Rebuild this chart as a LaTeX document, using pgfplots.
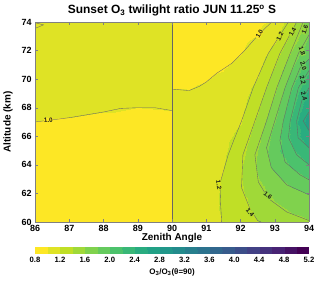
\documentclass[border=0pt]{standalone}
\usepackage{pgfplots}
\pgfplotsset{compat=1.18}
\usepackage{fontspec}
\setmainfont{Liberation Sans}
\pgfplotsset{colormap={rviridis}{rgb255=(253,231,37) rgb255=(189,223,38) rgb255=(122,209,81) rgb255=(68,191,112) rgb255=(34,168,132) rgb255=(33,145,140) rgb255=(42,120,142) rgb255=(53,95,141) rgb255=(65,68,135) rgb255=(72,36,117) rgb255=(68,1,84)}}
\pgfplotsset{cl/.style={black!60, line width=0.35pt, no marks}}
\tikzset{clab/.style={font=\bfseries\fontsize{6.3}{7}\selectfont, inner sep=0.2pt, text=black!90}}
\begin{document}
\begin{tikzpicture}
\begin{axis}[
  name=main,
  view={0}{90},
  width=274bp, height=200bp, scale only axis,
  xmin=86, xmax=94, ymin=60, ymax=74,
  xtick={86,87,...,94}, ytick={60,62,...,74},
  tick align=inside, major tick length=3bp,
  axis line style={black!50}, tick style={black!50},
  colormap name=rviridis,
  point meta min=0.8, point meta max=5.2,
  title={\bfseries Sunset O\textsubscript{3} twilight ratio JUN 11.25\textsuperscript{o} S},
  title style={font=\fontsize{12}{14}\selectfont, yshift=-4bp},
  xlabel={\bfseries Zenith Angle}, ylabel={\bfseries Altitude (km)},
  label style={font=\fontsize{10}{11}\selectfont},
  xlabel style={yshift=5bp},
  ylabel style={at={(axis description cs:-0.069,0.5)}, anchor=south},
  tick label style={font=\bfseries\fontsize{9}{10}\selectfont},
  /pgf/number format/assume math mode=true,
  colorbar horizontal,
  colorbar style={
    at={(parent axis.south west)}, anchor=north west, yshift=-16bp,
    width=274bp, height=7bp, scale only axis,
    xtick={0.8,1.2,1.6,2.0,2.4,2.8,3.2,3.6,4.0,4.4,4.8,5.2},
    tick label style={font=\bfseries\fontsize{7.7}{8}\selectfont},
    xticklabel style={/pgf/number format/.cd, fixed, fixed zerofill, precision=1, assume math mode=true},
    major tick length=0pt, axis line style={draw=none},
    xlabel={\bfseries O\textsubscript{3}/O\textsubscript{3}(θ=90)},
    xlabel style={font=\fontsize{8}{9}\selectfont, yshift=1bp},
  },
]
\addplot3[contour filled={number=22}, mesh/ordering=y varies] table {
x y z
86 60 0.96
86 61 0.96
86 62 0.96
86 63 0.96
86 64 0.96
86 65 0.96
86 66 0.96
86 67 0.998
86 68 1.04
86 69 1.04
86 70 1.04
86 71 1.04
86 72 1.04
86 73 1.04
86 74 1.04

87 60 0.96
87 61 0.96
87 62 0.96
87 63 0.96
87 64 0.96
87 65 0.96
87 66 0.96
87 67 0.983
87 68 1.04
87 69 1.04
87 70 1.04
87 71 1.04
87 72 1.04
87 73 1.04
87 74 1.04

88 60 0.96
88 61 0.96
88 62 0.96
88 63 0.96
88 64 0.96
88 65 0.96
88 66 0.96
88 67 0.96
88 68 1.017
88 69 1.04
88 70 1.04
88 71 1.04
88 72 1.04
88 73 1.04
88 74 1.04

89 60 0.96
89 61 0.96
89 62 0.96
89 63 0.96
89 64 0.96
89 65 0.96
89 66 0.96
89 67 0.96
89 68 0.999
89 69 1.04
89 70 1.04
89 71 1.04
89 72 1.04
89 73 1.04
89 74 1.04

89.99 60 0.96
89.99 61 0.96
89.99 62 0.96
89.99 63 0.96
89.99 64 0.96
89.99 65 0.96
89.99 66 0.96
89.99 67 0.96
89.99 68 1.01
89.99 69 1.04
89.99 70 1.04
89.99 71 1.04
89.99 72 1.04
89.99 73 1.04
89.99 74 1.04

90 60 1.08
90 61 1.08
90 62 1.07
90 63 1.07
90 64 1.06
90 65 1.05
90 66 1.04
90 67 1.03
90 68 1.02
90 69 1.004
90 70 0.99
90 71 0.98
90 72 0.97
90 73 0.96
90 74 0.95

90.5 60 1.09
90.5 61 1.09
90.5 62 1.09
90.5 63 1.08
90.5 64 1.07
90.5 65 1.06
90.5 66 1.05
90.5 67 1.04
90.5 68 1.02
90.5 69 1.005
90.5 70 0.985
90.5 71 0.97
90.5 72 0.95
90.5 73 0.94
90.5 74 0.93

91 60 1.14
91 61 1.14
91 62 1.14
91 63 1.13
91 64 1.12
91 65 1.10
91 66 1.08
91 67 1.06
91 68 1.04
91 69 1.02
91 70 0.995
91 71 0.97
91 72 0.95
91 73 0.93
91 74 0.92

91.5 60 1.21
91.5 61 1.22
91.5 62 1.22
91.5 63 1.21
91.5 64 1.19
91.5 65 1.16
91.5 66 1.14
91.5 67 1.11
91.5 68 1.08
91.5 69 1.05
91.5 70 1.02
91.5 71 0.985
91.5 72 0.95
91.5 73 0.93
91.5 74 0.91

92 60 1.30
92 61 1.33
92 62 1.37
92 63 1.39
92 64 1.38
92 65 1.32
92 66 1.25
92 67 1.19
92 68 1.15
92 69 1.11
92 70 1.07
92 71 1.03
92 72 0.99
92 73 0.96
92 74 0.93

92.5 60 1.40
92.5 61 1.46
92.5 62 1.53
92.5 63 1.59
92.5 64 1.63
92.5 65 1.61
92.5 66 1.53
92.5 67 1.45
92.5 68 1.37
92.5 69 1.29
92.5 70 1.21
92.5 71 1.14
92.5 72 1.07
92.5 73 1.005
92.5 74 0.96

93 60 1.47
93 61 1.56
93 62 1.65
93 63 1.74
93 64 1.88
93 65 1.94
93 66 1.90
93 67 1.80
93 68 1.70
93 69 1.59
93 70 1.49
93 71 1.39
93 72 1.27
93 73 1.13
93 74 1.04

93.5 60 1.55
93.5 61 1.63
93.5 62 1.74
93.5 63 1.90
93.5 64 2.03
93.5 65 2.16
93.5 66 2.26
93.5 67 2.25
93.5 68 2.15
93.5 69 2.04
93.5 70 1.90
93.5 71 1.75
93.5 72 1.61
93.5 73 1.45
93.5 74 1.33

94 60 1.58
94 61 1.70
94 62 1.82
94 63 2.00
94 64 2.20
94 65 2.37
94 66 2.56
94 67 2.72
94 68 2.57
94 69 2.46
94 70 2.28
94 71 2.10
94 72 1.93
94 73 1.81
94 74 1.72
};
% contour lines
\addplot3[cl] coordinates {(86,67.0,3) (87,67.3,3) (87.5,67.5,3) (88,67.7,3) (88.5,67.95,3) (89,68.0,3) (89.5,68.0,3) (90,67.8,3)};
\addplot3[cl] coordinates {(90,60,3) (90,74,3)};
\addplot3[cl] coordinates {(86,73.55,3) (86.25,73.8,3) (86,73.95,3)};
\addplot3[cl] coordinates {(90,69.3,3) (90.5,69.2,3) (90.8,69.5,3) (91.0,69.8,3) (91.3,70.4,3) (91.74,71.1,3) (92.08,71.9,3) (92.52,73.1,3) (92.91,74,3)};
\addplot3[cl] coordinates {(93.4,74,3) (92.81,71.8,3) (92.37,69.4,3) (92.03,67.07,3) (91.8,65.7,3) (91.64,64.7,3) (91.4,62.7,3) (91.42,61.2,3) (91.45,60,3)};
\addplot3[cl] coordinates {(93.64,74,3) (93.15,71.8,3) (92.76,69.4,3) (92.42,67.07,3) (92.07,64.7,3) (92.03,62.4,3) (92.28,60.9,3) (92.5,60.1,3) (92.6,60,3)};
\addplot3[cl] coordinates {(93.83,74,3) (93.45,71.8,3) (93.06,69.4,3) (92.76,67.07,3) (92.42,64.7,3) (92.52,62.8,3) (92.81,61.65,3) (93.35,60.7,3) (94,60.1,3)};
\addplot3[cl] coordinates {(94,73.1,3) (93.69,71.8,3) (93.3,69.4,3) (93.0,67.07,3) (92.76,65.2,3) (92.9,63.8,3) (93.35,62.6,3) (94,61.9,3)};
\addplot3[cl] coordinates {(94,71.4,3) (93.74,70.8,3) (93.5,69.4,3) (93.25,67.07,3) (93.15,65.7,3) (93.3,64.2,3) (93.74,63.3,3) (94,62.95,3)};
\addplot3[cl] coordinates {(94,70.6,3) (93.69,69.4,3) (93.45,67.07,3) (93.4,65.9,3) (93.64,64.7,3) (94,64.0,3)};
\addplot3[cl] coordinates {(94,69.4,3) (93.79,68.5,3) (93.64,67.07,3) (93.68,65.9,3) (94,65.2,3)};
\addplot3[cl] coordinates {(94,67.7,3) (93.83,67.07,3) (94,66.4,3)};
% contour labels
\node[clab, rotate=5, fill={rgb,255:red,253;green,231;blue,37}] at (axis cs:86.39,67.12,3) {1.0};
\node[clab, rotate=60, fill={rgb,255:red,253;green,231;blue,37}] at (axis cs:92.55,73.15,3) {1.0};
\node[clab, rotate=62, fill={rgb,255:red,205;green,225;blue,35}] at (axis cs:93.15,73.0,3) {1.2};
\node[clab, rotate=62, fill={rgb,255:red,180;green,220;blue,45}] at (axis cs:93.52,73.3,3) {1.4};
\node[clab, rotate=68, fill={rgb,255:red,155;green,215;blue,60}] at (axis cs:93.88,73.45,3) {1.6};
\node[clab, rotate=-70, fill={rgb,255:red,140;green,212;blue,70}] at (axis cs:93.8,71.95,3) {1.8};
\node[clab, rotate=-72, fill={rgb,255:red,110;green,205;blue,90}] at (axis cs:93.84,70.95,3) {2.0};
\node[clab, rotate=-75, fill={rgb,255:red,80;green,195;blue,105}] at (axis cs:93.82,69.9,3) {2.2};
\node[clab, rotate=-75, fill={rgb,255:red,55;green,183;blue,118}] at (axis cs:93.86,68.8,3) {2.4};
\node[clab, rotate=-82, fill={rgb,255:red,215;green,227;blue,30}] at (axis cs:91.37,62.6,3) {1.2};
\node[clab, rotate=-40, fill={rgb,255:red,150;green,215;blue,62}] at (axis cs:92.8,61.85,3) {1.6};
\node[clab, rotate=-50, fill={rgb,255:red,180;green,220;blue,45}] at (axis cs:92.28,60.65,3) {1.4};
\end{axis}
% page margins as in the reference
\path (main.south west) ++(-35bp,-61bp) coordinate (bbA);
\path (main.north east) ++(11bp,22bp) coordinate (bbB);
\path (bbA) (bbB);
\end{tikzpicture}
\end{document}
